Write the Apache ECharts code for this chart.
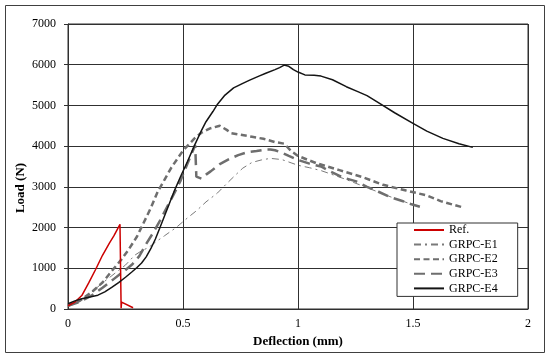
<!DOCTYPE html>
<html>
<head>
<meta charset="utf-8">
<script src="https://cdn.jsdelivr.net/npm/echarts@6/dist/echarts.min.js"></script>
<style>html,body{margin:0;padding:0;background:#fff}#c{width:550px;height:358px}</style>
</head>
<body>
<div id="c"></div>
<script>
const seriesNames = ['Ref.', 'GRPC-E1', 'GRPC-E2', 'GRPC-E3', 'GRPC-E4'];
const xTicks = [0, 0.5, 1, 1.5, 2];
const yTicks = [0, 1000, 2000, 3000, 4000, 5000, 6000, 7000];

const refX = [0, 0.03, 0.06, 0.09, 0.12, 0.15, 0.18, 0.2, 0.226, 0.229, 0.231, 0.233, 0.283];
const refY = [80, 170, 330, 640, 970, 1320, 1620, 1800, 2080, 2060, 20, 170, 30];

const e1X = [0, 0.05, 0.1, 0.15, 0.2, 0.25, 0.29, 0.32, 0.35, 0.38, 0.42, 0.47, 0.52, 0.56, 0.6, 0.65, 0.69, 0.73, 0.76, 0.8, 0.84, 0.88, 0.93, 0.97, 1.0, 1.05, 1.1, 1.2, 1.3, 1.4, 1.5];
const e1Y = [80, 180, 400, 640, 860, 1080, 1320, 1430, 1510, 1640, 1800, 2000, 2240, 2420, 2630, 2850, 3080, 3300, 3460, 3600, 3660, 3700, 3670, 3590, 3530, 3470, 3400, 3200, 2980, 2760, 2560];

const e2X = [0, 0.05, 0.1, 0.15, 0.2, 0.23, 0.26, 0.3, 0.33, 0.36, 0.39, 0.42, 0.45, 0.5, 0.55, 0.58, 0.62, 0.66, 0.69, 0.71, 0.75, 0.8, 0.85, 0.9, 0.94, 0.97, 1.0, 1.08, 1.18, 1.28, 1.37, 1.47, 1.56, 1.62, 1.72];
const e2Y = [80, 200, 400, 650, 1000, 1200, 1430, 1780, 2130, 2480, 2880, 3180, 3480, 3890, 4190, 4330, 4440, 4500, 4400, 4320, 4280, 4230, 4180, 4100, 4060, 3880, 3760, 3580, 3410, 3240, 3050, 2910, 2790, 2650, 2490];

const e3X = [0, 0.05, 0.1, 0.15, 0.2, 0.25, 0.28, 0.31, 0.34, 0.37, 0.4, 0.43, 0.46, 0.49, 0.52, 0.553, 0.558, 0.58, 0.6, 0.62, 0.66, 0.7, 0.74, 0.78, 0.82, 0.86, 0.88, 0.9, 0.93, 0.96, 1.0, 1.05, 1.1, 1.14, 1.2, 1.25, 1.3, 1.35, 1.4, 1.45, 1.49, 1.53];
const e3Y = [80, 170, 320, 520, 740, 960, 1100, 1300, 1600, 1870, 2170, 2500, 2820, 3160, 3580, 4020, 3250, 3200, 3300, 3380, 3560, 3680, 3780, 3850, 3880, 3920, 3920, 3900, 3840, 3760, 3660, 3570, 3500, 3380, 3220, 3140, 3000, 2880, 2750, 2660, 2580, 2510];

const e4X = [0, 0.03, 0.06, 0.1, 0.13, 0.16, 0.19, 0.22, 0.25, 0.28, 0.3, 0.32, 0.34, 0.36, 0.38, 0.4, 0.42, 0.44, 0.46, 0.49, 0.52, 0.55, 0.58, 0.6, 0.63, 0.65, 0.68, 0.72, 0.76, 0.79, 0.83, 0.86, 0.9, 0.92, 0.94, 0.96, 0.98, 1.0, 1.03, 1.07, 1.1, 1.15, 1.21, 1.26, 1.3, 1.36, 1.42, 1.5, 1.56, 1.63, 1.7, 1.76];
const e4Y = [130, 200, 250, 300, 340, 420, 530, 650, 780, 920, 1020, 1130, 1280, 1480, 1720, 2000, 2290, 2580, 2870, 3260, 3630, 4020, 4380, 4600, 4850, 5030, 5240, 5430, 5540, 5620, 5720, 5790, 5880, 5930, 5990, 5960, 5880, 5820, 5750, 5740, 5720, 5630, 5460, 5340, 5240, 5030, 4820, 4560, 4370, 4190, 4060, 3970];

const pairs = (xs, ys) => xs.map((x, i) => [x, ys[i]]);
const FONT = 'Liberation Serif';

const chart = echarts.init(document.getElementById('c'), null, {renderer: 'canvas'});
chart.setOption({
  animation: false,
  backgroundColor: '#fff',
  grid: {left: 68, right: 22, top: 24, bottom: 49, show: true, borderColor: '#303030', borderWidth: 1},
  xAxis: {
    type: 'value', min: xTicks[0], max: xTicks[xTicks.length - 1], interval: 0.5,
    name: 'Deflection (mm)', nameLocation: 'middle', nameGap: 24,
    nameTextStyle: {fontFamily: FONT, fontSize: 13, fontWeight: 'bold', color: '#000'},
    axisLine: {lineStyle: {color: '#303030', width: 1}},
    axisTick: {show: false},
    axisLabel: {fontFamily: FONT, fontSize: 12, color: '#000', margin: 9, formatter: v => String(v)},
    splitLine: {show: true, lineStyle: {color: '#303030', width: 1}}
  },
  yAxis: {
    type: 'value', min: yTicks[0], max: yTicks[yTicks.length - 1], interval: 1000,
    axisLine: {show: true, lineStyle: {color: '#303030', width: 1}},
    axisTick: {show: true, length: 4, lineStyle: {color: '#303030'}},
    axisLabel: {fontFamily: FONT, fontSize: 12, color: '#000', margin: 12, formatter: v => String(v)},
    splitLine: {show: true, lineStyle: {color: '#303030', width: 1}}
  },
  legend: {
    orient: 'vertical', left: 397, top: 223,
    data: seriesNames,
    backgroundColor: '#fff', borderColor: '#303030', borderWidth: 1,
    padding: [1, 20, 2, 16],
    itemWidth: 30, itemHeight: 12, itemGap: 2.6,
    itemStyle: {opacity: 0},
    textStyle: {fontFamily: FONT, fontSize: 12, color: '#000'}
  },
  graphic: [
    {type: 'rect', shape: {x: 5.5, y: 5.5, width: 539, height: 347}, style: {fill: 'none', stroke: '#404040', lineWidth: 1}, silent: true},
    {type: 'text', x: 20.5, y: 188, rotation: Math.PI / 2,
     style: {text: 'Load (N)', font: 'bold 13px "Liberation Serif"', fill: '#000', textAlign: 'center', textVerticalAlign: 'middle'}}
  ],
  series: [
    {name: seriesNames[0], type: 'line', symbol: 'none', data: pairs(refX, refY),
     lineStyle: {color: '#cc0000', width: 1.5}, itemStyle: {color: '#cc0000'}, z: 3},
    {name: seriesNames[1], type: 'line', symbol: 'none', data: pairs(e1X, e1Y),
     lineStyle: {color: '#7a7a7a', width: 1, type: [7, 4, 2, 4]}, itemStyle: {color: '#7a7a7a'}, z: 2},
    {name: seriesNames[2], type: 'line', symbol: 'none', data: pairs(e2X, e2Y),
     lineStyle: {color: '#6e6e6e', width: 2.5, type: [6, 3.5]}, itemStyle: {color: '#6e6e6e'}, z: 2},
    {name: seriesNames[3], type: 'line', symbol: 'none', data: pairs(e3X, e3Y),
     lineStyle: {color: '#6e6e6e', width: 2.5, type: [11, 6]}, itemStyle: {color: '#6e6e6e'}, z: 2},
    {name: seriesNames[4], type: 'line', symbol: 'none', data: pairs(e4X, e4Y),
     lineStyle: {color: '#141414', width: 1.5}, itemStyle: {color: '#141414'}, z: 4}
  ]
});
</script>
</body>
</html>
